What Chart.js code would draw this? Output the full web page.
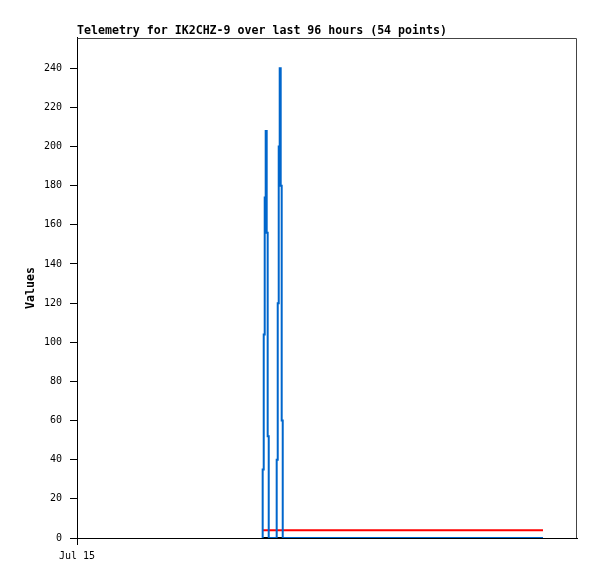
<!DOCTYPE html>
<html>
<head>
<meta charset="utf-8">
<script src="https://cdn.jsdelivr.net/npm/chart.js@4/dist/chart.umd.min.js"></script>
<style>
  body { margin: 0; background: #fff; }
  #wrap { width: 597px; height: 579px; }
</style>
</head>
<body>
<div id="wrap"><canvas id="telemetry" width="597" height="579"></canvas></div>
<script>
// hours since Jul 15 00:00
const hours = [35.52, 35.65, 35.85, 36.04, 36.23, 36.42, 36.61, 36.81,
               38.15, 38.34, 38.54, 38.73, 38.92, 39.11, 39.30, 39.50, 89.47];
const channelA = [0, 35, 104, 174, 208, 156, 52, 0,
                  0, 40, 120, 200, 240, 180, 60, 0, 0];
const channelB = [4, 4, 4, 4, 4, 4, 4, 4, 4, 4, 4, 4, 4, 4, 4, 4, 4];
const channelC = [0, 0, 0, 0, 0, 0, 0, 0, 0, 0, 0, 0, 0, 0, 0, 0, 0];
const xTickHours = [0];
const xTickLabels = ['Jul 15'];
const yTicks = [0, 20, 40, 60, 80, 100, 120, 140, 160, 180, 200, 220, 240];

const mono = 'DejaVu Sans Mono, monospace';
const pts = vals => hours.map((h, i) => ({ x: h, y: vals[i] }));

// top/right frame of the plot
const frame = {
  id: 'frame',
  afterDraw(chart) {
    const { ctx, chartArea: a } = chart;
    ctx.save();
    ctx.strokeStyle = '#444';
    ctx.lineWidth = 1;
    ctx.beginPath();
    ctx.moveTo(Math.round(a.left) + 0.5, Math.round(a.top) + 0.5);
    ctx.lineTo(Math.round(a.right) - 0.5, Math.round(a.top) + 0.5);
    ctx.lineTo(Math.round(a.right) - 0.5, Math.round(a.bottom));
    ctx.stroke();
    ctx.restore();
  }
};

new Chart(document.getElementById('telemetry'), {
  type: 'line',
  data: {
    datasets: [
      { data: pts(channelA), borderColor: '#0066cc', borderWidth: 2, stepped: true },
      { data: pts(channelB), borderColor: '#ff0000', borderWidth: 2, stepped: true },
      { data: pts(channelC), borderColor: '#000000', borderWidth: 2, stepped: true }
    ]
  },
  options: {
    responsive: false,
    animation: false,
    events: [],
    layout: { padding: { left: 0, right: 20, top: 0, bottom: 0 } },
    elements: { point: { radius: 0 }, line: { tension: 0 } },
    plugins: {
      legend: { display: false },
      tooltip: { enabled: false },
      title: {
        display: true,
        text: 'Telemetry for IK2CHZ-9 over last 96 hours (54 points)',
        align: 'start',
        fullSize: false,
        color: '#000',
        font: { family: mono, size: 11.6, weight: 'bold' },
        padding: { top: 24, bottom: 0 }
      }
    },
    scales: {
      x: {
        type: 'linear',
        min: 0,
        max: 96,
        afterBuildTicks: s => { s.ticks = xTickHours.map(v => ({ value: v })); },
        afterFit: s => { s.height = 41; },
        ticks: {
          color: '#000',
          font: { family: mono, size: 10 },
          padding: 5,
          maxRotation: 0,
          callback: (v) => xTickLabels[xTickHours.indexOf(v)]
        },
        grid: { drawOnChartArea: false, tickLength: 7, color: '#000' },
        border: { display: true, color: '#000', width: 1 }
      },
      y: {
        min: 0,
        max: 255.5,
        afterBuildTicks: s => { s.ticks = yTicks.map(v => ({ value: v })); },
        afterFit: s => { s.width = 77; },
        ticks: {
          color: '#000',
          font: { family: mono, size: 10 },
          padding: 8
        },
        grid: { drawOnChartArea: false, tickLength: 7, color: '#000' },
        border: { display: true, color: '#000', width: 1 },
        title: {
          display: true,
          text: 'Values',
          color: '#000',
          font: { family: mono, size: 11.6, weight: 'bold' },
          padding: { top: 24, bottom: 0 }
        }
      }
    }
  },
  plugins: [frame]
});
</script>
</body>
</html>
